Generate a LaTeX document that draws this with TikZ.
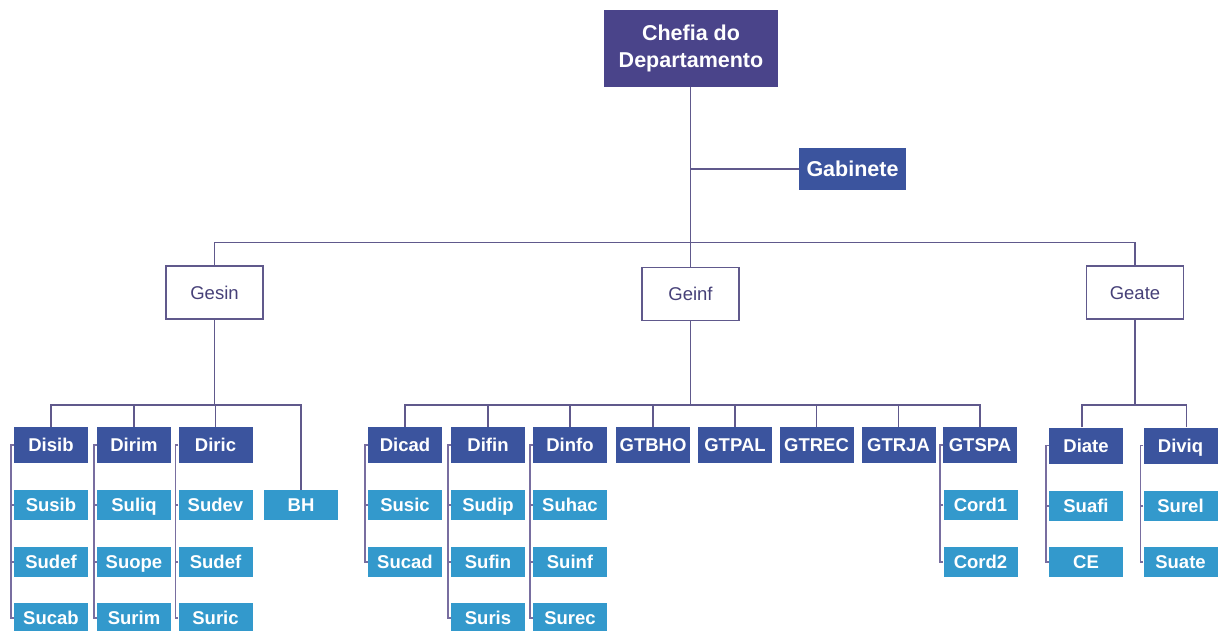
\documentclass[tikz,border=0pt]{standalone}
\usepackage{fontspec}
\setmainfont{Liberation Sans}
\begin{document}
\begin{tikzpicture}[x=1pt,y=-1pt]
\definecolor{chefc}{RGB}{74,68,138}
\definecolor{darkc}{RGB}{59,84,158}
\definecolor{lightc}{RGB}{51,153,204}
\definecolor{linec}{RGB}{96,89,140}
\definecolor{brackc}{RGB}{120,110,160}
\definecolor{gertxt}{RGB}{70,64,120}
\tikzset{
  box/.style={inner sep=0pt, text=white, font=\bfseries\fontsize{18.5}{22}\selectfont, align=center},
  chef/.style={box, fill=chefc, minimum width=174pt, minimum height=77pt, font=\bfseries\fontsize{21.5}{27}\selectfont},
  gab/.style={box, fill=darkc, minimum width=107pt, minimum height=42pt, font=\bfseries\fontsize{21.5}{26}\selectfont, text height=15.4pt, text depth=0pt},
  ger/.style={box, fill=white, draw=linec, line width=1.3pt, text=gertxt, font=\fontsize{18.5}{22}\selectfont, minimum width=97pt, minimum height=53pt, text height=13.2pt, text depth=0pt},
  dbox/.style={box, fill=darkc, minimum width=74pt, minimum height=36pt, text height=13.2pt, text depth=0pt},
  lbox/.style={box, fill=lightc, minimum width=74pt, minimum height=30pt, text height=13.2pt, text depth=0pt},
  conn/.style={draw=linec, line width=1.4pt},
  brack/.style={draw=brackc, line width=1.6pt},
}
\useasboundingbox (0,0) rectangle (1221,630);

% top level
\node[chef] (chefia) at (691,48.5) {Chefia do\\Departamento};
\node[gab] (gab) at (852.5,169) {Gabinete};

% managements
\node[ger] (gesin) at (214.5,292.5) {Gesin};
\node[ger] (geinf) at (690.5,294) {Geinf};
\node[ger] (geate) at (1135,292.5) {Geate};

% Gesin divisions
\node[dbox] (disib) at (51,445) {Disib};
\node[dbox] (dirim) at (134,445) {Dirim};
\node[dbox] (diric) at (215.5,445) {Diric};
\node[lbox] (bh) at (301,505) {BH};
\node[lbox] (susib) at (51,505) {Susib};
\node[lbox] (sudefa) at (51,562) {Sudef};
\node[lbox] (sucab) at (51,618) {Sucab};
\node[lbox] (suliq) at (134,505) {Suliq};
\node[lbox] (suope) at (134,562) {Suope};
\node[lbox] (surim) at (134,618) {Surim};
\node[lbox] (sudev) at (215.5,505) {Sudev};
\node[lbox] (sudefb) at (215.5,562) {Sudef};
\node[lbox] (suric) at (215.5,618) {Suric};

% Geinf divisions
\node[dbox] (dicad) at (405,445) {Dicad};
\node[dbox] (difin) at (488,445) {Difin};
\node[dbox] (dinfo) at (570,445) {Dinfo};
\node[dbox] (gtbho) at (653,445) {GTBHO};
\node[dbox] (gtpal) at (735,445) {GTPAL};
\node[dbox] (gtrec) at (816.5,445) {GTREC};
\node[dbox] (gtrja) at (898.5,445) {GTRJA};
\node[dbox] (gtspa) at (980,445) {GTSPA};
\node[lbox] (susic) at (405,505) {Susic};
\node[lbox] (sucad) at (405,562) {Sucad};
\node[lbox] (sudip) at (488,505) {Sudip};
\node[lbox] (sufin) at (488,562) {Sufin};
\node[lbox] (suris) at (488,618) {Suris};
\node[lbox] (suhac) at (570,505) {Suhac};
\node[lbox] (suinf) at (570,562) {Suinf};
\node[lbox] (surec) at (570,618) {Surec};
\node[lbox] (cord1) at (980.5,505) {Cord1};
\node[lbox] (cord2) at (980.5,562) {Cord2};

% Geate divisions
\node[dbox] (diate) at (1086,445.5) {Diate};
\node[dbox] (diviq) at (1180.5,445.5) {Diviq};
\node[lbox] (suafi) at (1086,506) {Suafi};
\node[lbox] (ce) at (1086,562) {CE};
\node[lbox] (surel) at (1180.5,506) {Surel};
\node[lbox] (suate) at (1180.5,562) {Suate};

% trunk from the head office
\coordinate (hub) at (690.5,243);
\draw[conn] (chefia.south -| hub) -- (hub);
\draw[conn] (hub |- gab.west) -- (gab.west);
\draw[conn] (gesin.north) -- ++(0,-23) -| (geate.north);
\draw[conn] (hub) -- (geinf.north);

% Gesin branch
\draw[conn] (gesin.south) -- ++(0,86);
\draw[conn] (disib.north) -- ++(0,-22) -| (bh.north);
\draw[conn] (dirim.north) -- ++(0,-22);
\draw[conn] (diric.north) -- ++(0,-22);

% Geinf branch
\draw[conn] (geinf.south) -- ++(0,85);
\draw[conn] (dicad.north) -- ++(0,-22) -| (gtspa.north);
\foreach \n in {difin,dinfo,gtbho,gtpal,gtrec,gtrja}
  \draw[conn] (\n.north) -- ++(0,-22);

% Geate branch
\draw[conn] (geate.south) -- ++(0,86);
\draw[conn] ([xshift=-4pt]diate.north) -- ++(0,-22.5) -| ([xshift=6pt]diviq.north);

% brackets down to the sections
\foreach \top/\bot/\mid in {disib/sucab/{susib,sudefa}, dirim/surim/{suliq,suope},
    diric/suric/{sudev,sudefb}, difin/suris/{sudip,sufin}, dinfo/surec/{suhac,suinf}} {
  \draw[brack] (\top.west) -- ++(-3,0) |- (\bot.west);
  \foreach \m in \mid \draw[brack] (\m.west) -- ++(-3,0);
}
\foreach \top/\bot/\m in {dicad/sucad/susic, gtspa/cord2/cord1, diate/ce/suafi, diviq/suate/surel} {
  \draw[brack] (\top.west) -- ++(-3,0) |- (\bot.west);
  \draw[brack] (\m.west) -- ++(-3,0);
}
\end{tikzpicture}
\end{document}
